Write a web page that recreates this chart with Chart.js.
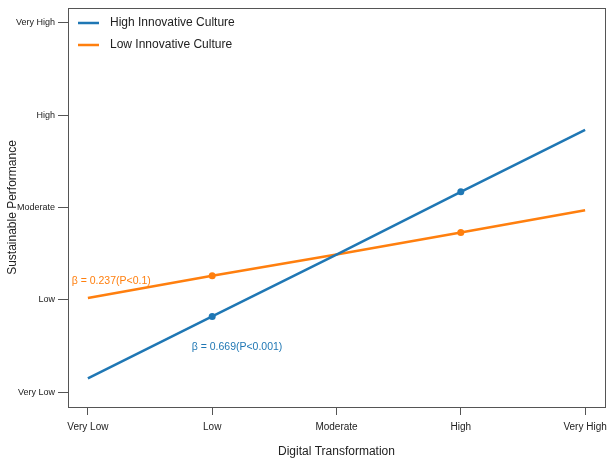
<!DOCTYPE html>
<html>
<head>
<meta charset="utf-8">
<script src="https://cdn.jsdelivr.net/npm/chart.js@4/dist/chart.umd.min.js"></script>
<style>
  body { margin: 0; background: #fff; }
</style>
</head>
<body>
<canvas id="chart" width="608" height="461"></canvas>
<script>
const levelLabels = ['Very Low', 'Low', 'Moderate', 'High', 'Very High'];
const xLevels = [1, 2, 3, 4, 5];
const highCulture = [1.15, 1.82, 2.49, 3.17, 3.84];
const lowCulture = [2.02, 2.26, 2.49, 2.73, 2.97];
const markerLevels = [2, 4];

const BLUE = '#1f77b4';
const ORANGE = '#ff7f0e';
const AXIS = '#555';
const FONT = "'Liberation Sans', Arial, Helvetica, sans-serif";

const toPoints = vals => xLevels.map((x, i) => ({ x: x, y: vals[i] }));
const radii = xLevels.map(x => markerLevels.includes(x) ? 3.5 : 0);

// slope labels, anchored in data units
const notes = [
    { text: 'β = 0.237(P<0.1)', x: 0.87, y: 2.2, color: ORANGE },
    { text: 'β = 0.669(P<0.001)', x: 1.835, y: 1.49, color: BLUE }
];

const boxPlugin = {
    id: 'boxPlugin',
    afterDraw(chart) {
        const ctx = chart.ctx;
        const a = chart.chartArea;
        ctx.save();
        ctx.strokeStyle = AXIS;
        ctx.lineWidth = 1;
        ctx.strokeRect(a.left + 0.5, a.top + 0.5, a.right - a.left, a.bottom - a.top);

        // legend, top-left inside the box
        ctx.font = '12px ' + FONT;
        ctx.textBaseline = 'middle';
        ctx.textAlign = 'left';
        chart.data.datasets.forEach((ds, i) => {
            const y = a.top + 15 + i * 22;
            ctx.strokeStyle = ds.borderColor;
            ctx.lineWidth = 2.5;
            ctx.beginPath();
            ctx.moveTo(a.left + 10, y);
            ctx.lineTo(a.left + 31, y);
            ctx.stroke();
            ctx.fillStyle = '#222';
            ctx.fillText(ds.label, a.left + 42, y);
        });

        // slope annotations
        const xs = chart.scales.x, ys = chart.scales.y;
        ctx.font = '10.5px ' + FONT;
        notes.forEach(n => {
            ctx.fillStyle = n.color;
            ctx.fillText(n.text, xs.getPixelForValue(n.x), ys.getPixelForValue(n.y));
        });
        ctx.restore();
    }
};

new Chart(document.getElementById('chart'), {
    type: 'line',
    data: {
        datasets: [{
            label: 'High Innovative Culture',
            data: toPoints(highCulture),
            borderColor: BLUE,
            backgroundColor: BLUE,
            borderWidth: 2.5,
            pointRadius: radii,
            pointBorderWidth: 0,
            tension: 0
        }, {
            label: 'Low Innovative Culture',
            data: toPoints(lowCulture),
            borderColor: ORANGE,
            backgroundColor: ORANGE,
            borderWidth: 2.5,
            pointRadius: radii,
            pointBorderWidth: 0,
            tension: 0
        }]
    },
    options: {
        responsive: false,
        animation: false,
        layout: {
            autoPadding: false,
            padding: { top: 8, right: 3, left: 0, bottom: 0 }
        },
        scales: {
            x: {
                type: 'linear',
                min: 0.84,
                max: 5.16,
                afterBuildTicks: scale => { scale.ticks = xLevels.map(v => ({ value: v })); },
                afterFit: scale => {
                    scale.height = 54;
                    scale.paddingLeft = 0;
                    scale.paddingRight = 0;
                },
                border: { display: false },
                grid: {
                    drawOnChartArea: false,
                    drawTicks: true,
                    tickLength: 8,
                    tickColor: AXIS
                },
                ticks: {
                    color: '#222',
                    padding: 6,
                    maxRotation: 0,
                    autoSkip: false,
                    font: { family: FONT, size: 10 },
                    callback: v => levelLabels[v - 1]
                },
                title: {
                    display: true,
                    text: 'Digital Transformation',
                    color: '#222',
                    padding: { top: 4, bottom: 2 },
                    font: { family: FONT, size: 12 }
                }
            },
            y: {
                type: 'linear',
                min: 0.84,
                max: 5.16,
                afterBuildTicks: scale => { scale.ticks = xLevels.map(v => ({ value: v })); },
                afterFit: scale => {
                    scale.width = 68;
                    scale.paddingTop = 0;
                    scale.paddingBottom = 0;
                },
                border: { display: false },
                grid: {
                    drawOnChartArea: false,
                    drawTicks: true,
                    tickLength: 10,
                    tickColor: AXIS
                },
                ticks: {
                    color: '#222',
                    padding: 3,
                    autoSkip: false,
                    font: { family: FONT, size: 9 },
                    callback: v => levelLabels[v - 1]
                },
                title: {
                    display: true,
                    text: 'Sustainable Performance',
                    color: '#222',
                    padding: { top: 5, bottom: 0 },
                    font: { family: FONT, size: 12 }
                }
            }
        },
        plugins: {
            legend: { display: false },
            tooltip: { enabled: false }
        }
    },
    plugins: [boxPlugin]
});
</script>
</body>
</html>
